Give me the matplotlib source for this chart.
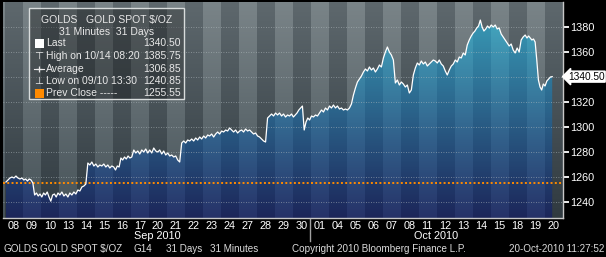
import numpy as np
import matplotlib
matplotlib.use('Agg')
import matplotlib.pyplot as plt
from matplotlib.patches import Rectangle, Polygon
from matplotlib.lines import Line2D
from matplotlib.transforms import blended_transform_factory

plt.rcParams['font.family'] = ['Liberation Sans', 'DejaVu Sans']

# trading days on the x axis
sep_days = ['08', '09', '10', '13', '14', '15', '16', '17', '20', '21', '22', '23',
            '24', '27', '28', '29', '30']
oct_days = ['01', '04', '05', '06', '07', '08', '11', '12', '13', '14', '15', '18',
            '19', '20']
day_labels = sep_days + oct_days

# 31-minute bar closes per trading day
day_prices = [
    [1256.2, 1257.8, 1259.4, 1260.2, 1259.4, 1261.0, 1259.4, 1258.6, 1259.4],
    [1257.8, 1258.6, 1257.0, 1258.6, 1257.8, 1255.4, 1245.8, 1247.4, 1245.0, 1246.6],
    [1244.2, 1247.4, 1245.8, 1248.2, 1244.2, 1240.85, 1245.8, 1246.6, 1244.2, 1247.4],
    [1245.8, 1248.2, 1245.0, 1246.6, 1244.2, 1247.4, 1245.8, 1248.2, 1246.6],
    [1249.8, 1249.0, 1252.2, 1253.0, 1254.6, 1271.4, 1269.8, 1272.2, 1269.0],
    [1270.6, 1268.2, 1269.8, 1269.0, 1270.6, 1268.2, 1269.8, 1267.4, 1269.0],
    [1268.2, 1265.8, 1269.0, 1268.2, 1275.4, 1273.8, 1276.2, 1274.6, 1277.0, 1275.4],
    [1276.2, 1281.8, 1279.4, 1281.0, 1278.6, 1281.8, 1280.2, 1282.6, 1279.4],
    [1281.8, 1279.4, 1283.4, 1281.0, 1280.2, 1281.8, 1278.6, 1281.0, 1277.8],
    [1279.4, 1277.0, 1277.8, 1276.2, 1277.0, 1273.8, 1272.2, 1287.4, 1289.0],
    [1287.4, 1289.8, 1289.0, 1290.6, 1289.0, 1291.4, 1289.8, 1292.2, 1290.6],
    [1293.0, 1291.4, 1293.8, 1293.0, 1294.6, 1292.2, 1294.6, 1296.2, 1294.6],
    [1297.0, 1296.2, 1297.8, 1297.0, 1299.4, 1297.8, 1296.2, 1297.8, 1295.4],
    [1297.0, 1297.8, 1296.2, 1298.6, 1297.0, 1297.8, 1296.2, 1294.6, 1295.4],
    [1293.0, 1292.2, 1290.6, 1289.0, 1288.2, 1307.4, 1309.0, 1310.6, 1309.0],
    [1311.4, 1309.8, 1311.4, 1309.0, 1310.6, 1308.2, 1309.8, 1309.0, 1310.6],
    [1308.2, 1309.8, 1311.4, 1313.8, 1315.4, 1317.0, 1297.8, 1304.2, 1307.4, 1305.8],
    [1309.0, 1308.2, 1309.8, 1309.0, 1311.4, 1313.8, 1312.2, 1315.4, 1313.8],
    [1317.0, 1315.4, 1317.8, 1315.4, 1317.0, 1314.6, 1315.4, 1313.8, 1314.6],
    [1313.8, 1315.4, 1318.6, 1325.8, 1331.4, 1336.2, 1338.6, 1341.0, 1344.2],
    [1346.6, 1345.0, 1348.2, 1345.8, 1347.4, 1344.2, 1346.6, 1349.8, 1348.2],
    [1355.4, 1360.2, 1364.2, 1360.2, 1357.8, 1353.8, 1335.4, 1337.8, 1333.8],
    [1336.2, 1334.6, 1332.2, 1333.8, 1327.4, 1329.8, 1341.8, 1347.4, 1351.4],
    [1349.8, 1353.0, 1350.6, 1352.2, 1349.0, 1350.6, 1352.2, 1353.8, 1353.0],
    [1351.4, 1353.8, 1350.6, 1349.0, 1345.0, 1341.8, 1345.8, 1349.0, 1350.6],
    [1353.8, 1352.2, 1356.2, 1355.4, 1359.4, 1357.8, 1365.8, 1369.8, 1373.0],
    [1375.4, 1377.0, 1379.4, 1381.0, 1385.75, 1380.2, 1377.0, 1378.6, 1381.0, 1379.4],
    [1381.8, 1380.2, 1381.8, 1378.6, 1379.4, 1374.6, 1372.2, 1369.8, 1367.4],
    [1365.0, 1366.6, 1361.8, 1359.4, 1363.4, 1360.2, 1369.8, 1372.2, 1373.8],
    [1371.4, 1373.0, 1371.4, 1369.8, 1370.6, 1368.2, 1353.8, 1337.8, 1332.2, 1329.8, 1334.6],
    [1333.0, 1337.0, 1338.6, 1340.2, 1340.5],
]
last_day_fraction = 0.5  # chart stops at 11:27 on the last day

last_price = 1340.50
high_price = 1385.75
avg_price = 1306.85
low_price = 1240.85
prev_close = 1255.55
yticks = [1240, 1260, 1280, 1300, 1320, 1340, 1360, 1380]

W, H = 606, 257
ymin, ymax = 1227.4, 1400.2
xmin, xmax = -0.11, 31.05

xs, ys = [], []
for i, p in enumerate(day_prices):
    frac = last_day_fraction if i == len(day_prices) - 1 else 1.0
    for k, v in enumerate(p):
        xs.append(i + (k + 0.5) / len(p) * frac)
        ys.append(v)


def fx(x):
    return x / W


def fy(y):
    return 1 - y / H


fig = plt.figure(figsize=(W / 100, H / 100), dpi=100, facecolor='black')
ax = fig.add_axes([fx(3), fy(218), fx(563) - fx(3), fy(2) - fy(218)])
ax.set_facecolor('black')

# striped backgrounds with vertical gradients
rows = 256
t = np.linspace(1, 0, rows)[:, None, None]
cols = np.arange(-1, 31)
light = (cols % 2 == 1)[None, :, None]


def stripes(top_l, top_d, bot_l, bot_d):
    top = np.where(light, np.array(top_l), np.array(top_d))
    bot = np.where(light, np.array(bot_l), np.array(bot_d))
    return (bot + (top - bot) * t) / 255.0


bg = stripes((122, 132, 136), (94, 104, 109), (70, 82, 88), (48, 58, 64))
fill = stripes((70, 176, 198), (58, 162, 188), (38, 50, 104), (28, 38, 90))

ax.imshow(bg, extent=(-1, 31, ymin, ymax), aspect='auto', interpolation='nearest', zorder=0)
im = ax.imshow(fill, extent=(-1, 31, ymin, ymax), aspect='auto', interpolation='nearest', zorder=1)
verts = [(xs[0], ymin)] + list(zip(xs, ys)) + [(xs[-1], ymin)]
poly = Polygon(verts, closed=True, facecolor='none', edgecolor='none')
ax.add_patch(poly)
im.set_clip_path(poly)

ax.hlines(yticks, xmin, xmax, colors='#b4bcc0', linestyles=(0, (1, 2)), lw=0.6, alpha=0.7, zorder=2)
ax.axhline(prev_close, color='#ff8a00', lw=1.4, ls=(0, (1, 1.2)), zorder=3)
ax.plot(xs, ys, color='white', lw=0.9, zorder=4)

ax.set_xlim(xmin, xmax)
ax.set_ylim(ymin, ymax)
for s in ['top', 'left']:
    ax.spines[s].set_visible(False)
for s in ['right', 'bottom']:
    ax.spines[s].set_color('#c8c8c8')
    ax.spines[s].set_linewidth(1)

ax.yaxis.tick_right()
ax.set_yticks(yticks)
ax.set_yticklabels(['' if v == 1340 else str(v) for v in yticks])
ax.tick_params(axis='y', colors='white', length=4, width=1.3, labelsize=7.8, pad=1)
ax.set_xticks(np.arange(len(day_labels)) + 0.5)
ax.set_xticklabels(day_labels)
ax.tick_params(axis='x', colors='white', length=0, labelsize=7.8, pad=2)

tr = blended_transform_factory(ax.transAxes, ax.transData)
ax.text(1.009, last_price, '%.2f' % last_price, transform=tr, fontsize=7.3, color='black',
        va='center', ha='left',
        bbox=dict(boxstyle='larrow,pad=0.05', fc='white', ec='white'))

# month labels and separator
fig.text(fx(157), fy(236), 'Sep 2010', color='white', fontsize=7.8, ha='center', va='center')
fig.text(fx(436), fy(236), 'Oct 2010', color='white', fontsize=7.8, ha='center', va='center')
fig.add_artist(Line2D([fx(309.5), fx(309.5)], [fy(219), fy(241)], color='#a0a0a0', lw=1))

# footer
footer = [(4, 'GOLDS'), (40, 'GOLD SPOT $/OZ'), (133, 'G14'), (166, '31 Days'),
          (210, '31 Minutes'), (292, 'Copyright 2010 Bloomberg Finance L.P.')]
for x, s in footer:
    fig.text(fx(x), fy(249), s, color='#dcdcdc', fontsize=7.1, ha='left', va='center')
fig.text(fx(604), fy(249), '20-Oct-2010 11:27:52', color='#dcdcdc', fontsize=7.1,
         ha='right', va='center')

# info box
fig.add_artist(Rectangle((fx(29), fy(99)), fx(184) - fx(29), fy(8) - fy(99),
                         facecolor=(0, 0, 0, 0.32), edgecolor='#d8dcdc', lw=1))
tc = '#e8e8e8'
fig.text(fx(107), fy(20), 'GOLDS   GOLD SPOT $/OZ', color=tc, fontsize=7.5, ha='center', va='center')
fig.text(fx(107), fy(32), '31 Minutes  31 Days', color=tc, fontsize=7.5, ha='center', va='center')
rows_info = [(43, 'Last', last_price), (56, 'High on 10/14 08:20', high_price),
             (69, 'Average', avg_price), (81, 'Low on 09/10 13:30', low_price),
             (93, 'Prev Close -----', prev_close)]
for y, s, v in rows_info:
    fig.text(fx(46), fy(y), s, color=tc, fontsize=7.5, ha='left', va='center')
    fig.text(fx(181), fy(y), '%.2f' % v, color=tc, fontsize=7.5, ha='right', va='center')
fig.add_artist(Rectangle((fx(35), fy(48)), fx(9), 9 / H, facecolor='white', edgecolor='none'))
fig.add_artist(Rectangle((fx(35), fy(98)), fx(9), 9 / H, facecolor='#ff8a00', edgecolor='none'))
fig.text(fx(39), fy(56), '\u22a4', color=tc, fontsize=7.5, ha='center', va='center',
         family=['DejaVu Sans'])
fig.text(fx(39), fy(81), '\u22a5', color=tc, fontsize=7.5, ha='center', va='center',
         family=['DejaVu Sans'])
fig.add_artist(Line2D([fx(34), fx(44)], [fy(69), fy(69)], color=tc, lw=0.8))
fig.add_artist(Line2D([fx(39)], [fy(69)], color=tc, marker='+', markersize=5, mew=0.9))

fig.savefig('out.png', dpi=100, facecolor='black')
